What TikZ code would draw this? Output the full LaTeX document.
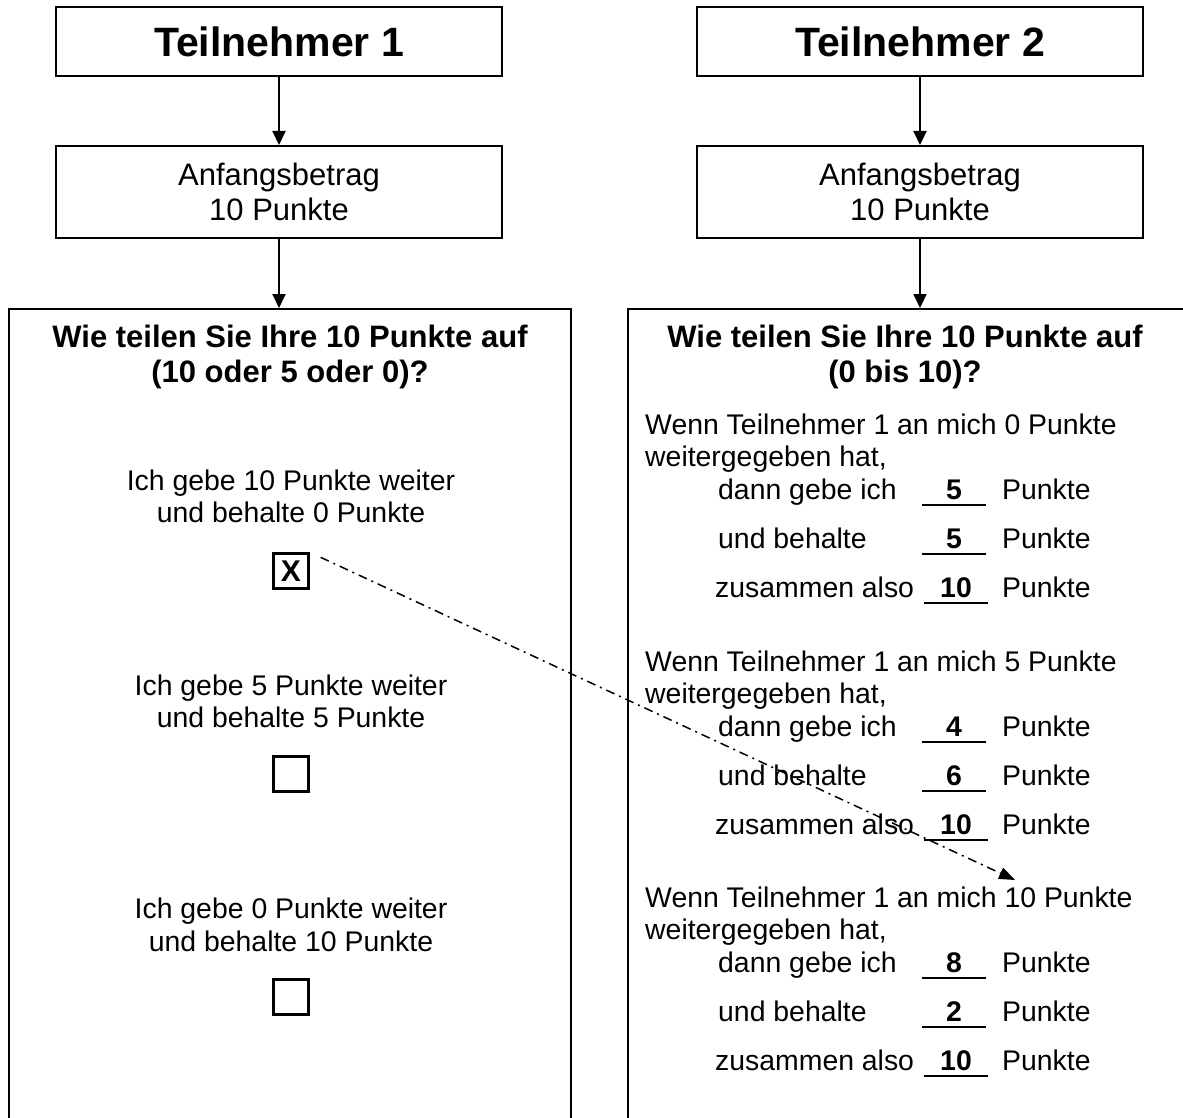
\documentclass[tikz,border=0pt]{standalone}
\usepackage{fontspec}
\setmainfont{Liberation Sans}
\usetikzlibrary{arrows.meta,calc}

\begin{document}
\begin{tikzpicture}[x=1pt,y=-1pt,
  headbox/.style={draw,line width=2pt,minimum width=446pt,minimum height=69pt,inner sep=0pt,font=\bfseries\fontsize{41}{46}\selectfont},
  startbox/.style={draw,line width=2pt,minimum width=446pt,minimum height=92pt,inner sep=0pt,align=center,font=\fontsize{31}{35}\selectfont},
  askbox/.style={draw,line width=2pt,anchor=north west,minimum height=900pt,inner sep=0pt},
  asktitle/.style={anchor=base,inner sep=0pt,font=\bfseries\fontsize{31}{35}\selectfont},
  body/.style={anchor=base,inner sep=0pt,font=\fontsize{28.4}{33}\selectfont},
  num/.style={body,font=\bfseries\fontsize{28.4}{33}\selectfont,minimum width=64pt,inner ysep=6pt,text depth=0pt},
  tick/.style={draw,line width=2.5pt,minimum size=35pt,inner sep=0pt},
  flow/.style={line width=2pt,-{Triangle[length=14pt,width=13pt]}},
  pass/.style={line width=1.5pt,dash pattern=on 9pt off 5pt on 2pt off 5pt,-{Triangle[length=16pt,width=12pt]},shorten <=12pt}]

\clip (0,0) rectangle (1183,1118);
\fill[white] (0,0) rectangle (1183,1118);

\node[headbox] (t1) at (279,41.5) {Teilnehmer 1};
\node[startbox] (a1) at (279,192) {Anfangsbetrag\\10 Punkte};
\node[askbox,minimum width=562pt] (q1) at (8,308) {};

\node[headbox] (t2) at (920,41.5) {Teilnehmer 2};
\node[startbox] (a2) at (920,192) {Anfangsbetrag\\10 Punkte};
\node[askbox,minimum width=620pt] (q2) at (627,308) {};

\draw[flow] (t1) -- (a1);
\draw[flow] (a1.south) -- (a1.south |- q1.north);
\draw[flow] (t2) -- (a2);
\draw[flow] (a2.south) -- (a2.south |- q2.north);

\node[asktitle] (h1a) at (290,347) {Wie teilen Sie Ihre 10 Punkte auf};
\node[asktitle] (h1b) at (290,382) {(10 oder 5 oder 0)?};
\node[asktitle] (h2a) at (905,347) {Wie teilen Sie Ihre 10 Punkte auf};
\node[asktitle] (h2b) at (905,382) {(0 bis 10)?};

\node[body] (c1a) at (291,490) {Ich gebe 10 Punkte weiter};
\node[body] (c1b) at (291,522) {und behalte 0 Punkte};
\node[tick] (cb1) at (291,571) {\bfseries\fontsize{30}{30}\selectfont X};
\node[body] (c2a) at (291,695) {Ich gebe 5 Punkte weiter};
\node[body] (c2b) at (291,727) {und behalte 5 Punkte};
\node[tick] (cb2) at (291,774) {};
\node[body] (c3a) at (291,918) {Ich gebe 0 Punkte weiter};
\node[body] (c3b) at (291,951) {und behalte 10 Punkte};
\node[tick] (cb3) at (291,997) {};

\foreach \g/\d/\p/\a/\b in {1/0/0/5/5,2/237/5/4/6,3/473/10/8/2}{
  \node[body,anchor=base west] (wa\g) at (645,{434+\d}) {Wenn Teilnehmer 1 an mich \p\ Punkte};
  \node[body,anchor=base west] (wb\g) at (645,{466+\d}) {weitergegeben hat,};
  \node[body,anchor=base west] (ra\g) at (718,{499+\d}) {dann gebe ich};
  \node[body,anchor=base west] (rb\g) at (718,{548+\d}) {und behalte};
  \node[body,anchor=base west] (rc\g) at (715,{597+\d}) {zusammen also};
  \node[num] (na\g) at (954,{499+\d}) {\a};
  \node[num] (nb\g) at (954,{548+\d}) {\b};
  \node[num] (nc\g) at (956,{597+\d}) {10};
  \draw[line width=1.5pt] (na\g.south west) -- (na\g.south east);
  \draw[line width=1.5pt] (nb\g.south west) -- (nb\g.south east);
  \draw[line width=1.5pt] (nc\g.south west) -- (nc\g.south east);
  \node[body,anchor=base west] (pa\g) at (1002,{499+\d}) {Punkte};
  \node[body,anchor=base west] (pb\g) at (1002,{548+\d}) {Punkte};
  \node[body,anchor=base west] (pc\g) at (1002,{597+\d}) {Punkte};
}

\coordinate (tip) at (1015,880);
\draw[pass] (cb1.north east) -- (tip);

\end{tikzpicture}
\end{document}
